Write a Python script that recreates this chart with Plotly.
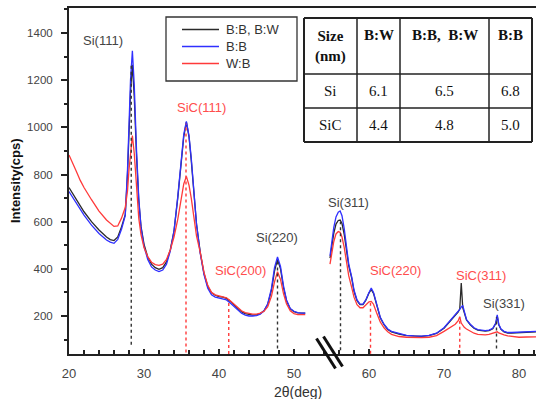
import plotly.graph_objects as go

# ---------------- data ----------------
x_seg1 = [20, 20.5, 21, 21.5, 22, 23, 24, 25, 25.5, 26, 26.5, 27, 27.5, 27.8, 28.0, 28.2, 28.45, 28.7,
          29.0, 29.3, 29.6, 30.0, 30.5, 31, 31.5, 32, 32.5, 33, 33.5, 34, 34.5, 35, 35.3, 35.65, 36.0,
          36.3, 36.6, 37, 37.5, 38, 38.5, 39, 39.5, 40, 40.5, 41, 41.5, 42, 42.5, 43, 43.5, 44, 44.5,
          45, 45.5, 46, 46.5, 47, 47.4, 47.8, 48.2, 48.6, 49, 49.5, 50, 50.5, 51, 51.5]
black_seg1 = [745, 720, 695, 668, 642, 600, 565, 535, 524, 520, 535, 578, 630, 800, 980, 1150, 1265, 1130,
              880, 690, 580, 505, 450, 420, 405, 398, 405, 430, 480, 560, 700, 870, 960, 1022, 960,
              860, 740, 590, 470, 380, 325, 298, 288, 282, 280, 275, 262, 248, 232, 218, 210, 206, 204,
              205, 210, 222, 250, 310, 390, 440, 400, 320, 265, 230, 218, 213, 212, 212]
blue_seg1 = [728, 703, 680, 652, 628, 585, 550, 522, 513, 508, 525, 568, 625, 820, 1010, 1200, 1325, 1180,
             905, 700, 575, 495, 440, 408, 395, 388, 395, 420, 475, 560, 705, 880, 970, 1025, 965,
             870, 745, 590, 465, 375, 318, 290, 280, 275, 272, 268, 255, 240, 225, 212, 204, 200, 200,
             202, 208, 222, 252, 318, 405, 450, 410, 328, 268, 232, 220, 214, 212, 212]
red_seg1 = [883, 850, 812, 775, 745, 693, 645, 607, 592, 580, 582, 615, 660, 730, 820, 900, 965, 890,
            740, 615, 545, 490, 452, 428, 418, 415, 420, 440, 480, 535, 610, 700, 760, 792, 755,
            700, 630, 540, 470, 385, 330, 300, 290, 285, 282, 277, 265, 250, 235, 222, 214, 210, 208,
            208, 212, 220, 240, 285, 345, 388, 355, 295, 252, 222, 210, 206, 205, 206]

x_seg2 = [54.8, 55.0, 55.3, 55.6, 55.9, 56.15, 56.4, 56.7, 57.0, 57.3, 57.7, 58.0, 58.4, 58.8, 59.2, 59.6,
          60.0, 60.3, 60.6, 61.0, 61.5, 62, 62.5, 63, 64, 65, 66, 67, 68, 69, 70, 70.5, 71, 71.5, 71.9,
          72.1, 72.3, 72.5, 72.7, 73, 73.5, 74, 74.5, 75, 75.5, 76, 76.5, 76.9, 77.1, 77.3, 77.6, 78,
          78.5, 79, 80, 81, 82, 82.5]
black_seg2 = [445, 495, 550, 590, 605, 607, 592, 545, 480, 412, 360, 305, 265, 248, 248, 268, 298, 312,
              296, 248, 193, 163, 143, 133, 123, 117, 115, 114, 117, 126, 148, 166, 183, 203, 218,
              230, 340, 235, 215, 183, 163, 148, 140, 138, 136, 138, 146, 168, 200, 163, 143, 133,
              128, 128, 130, 131, 133, 133]
blue_seg2 = [455, 510, 575, 620, 640, 645, 625, 570, 495, 420, 365, 310, 268, 250, 250, 270, 300, 318,
             300, 250, 195, 165, 145, 135, 125, 118, 116, 115, 118, 127, 150, 168, 185, 205, 220,
             228, 238, 245, 220, 185, 165, 150, 142, 140, 138, 140, 148, 170, 205, 165, 145, 135,
             130, 130, 132, 133, 135, 135]
red_seg2 = [420, 465, 515, 548, 558, 555, 535, 490, 430, 370, 320, 280, 248, 235, 235, 248, 260, 262,
            250, 215, 175, 150, 133, 122, 113, 110, 108, 108, 110, 117, 135, 145, 155, 165, 180,
            197, 170, 160, 152, 145, 135, 127, 122, 120, 120, 122, 127, 130, 133, 128, 124, 120,
            116, 113, 110, 111, 112, 112]

series_names = ["B:B, B:W", "B:B", "W:B"]

# peak reference (dashed) lines
peak_labels = ["Si(111)", "SiC(111)", "SiC(200)", "Si(220)", "Si(311)", "SiC(220)", "SiC(311)", "Si(331)"]
peak_pos = [28.3, 35.6, 41.3, 47.8, 56.2, 60.2, 72.1, 77.0]
peak_bottom = [78, 45, 39, 62, 55, 40, 40, 62]
peak_top = [1262, 1015, 272, 440, 600, 260, 195, 195]
peak_is_sic = [False, True, True, False, False, True, True, False]
label_x = [24.5, 37.7, 42.8, 47.7, 57.3, 63.5, 74.9, 78.0]
label_y = [1370, 1086, 391, 535, 683, 395, 370, 255]

# crystallite size table
table_header = ["Size<br>(nm)", "B:W", "B:B,  B:W", "B:B"]
table_rows = [["Si", "6.1", "6.5", "6.8"],
              ["SiC", "4.4", "4.8", "5.0"]]

x_ticks = [20, 30, 40, 50, 60, 70, 80]
y_ticks = [200, 400, 600, 800, 1000, 1200, 1400]

# ---------------- layout geometry ----------------
W, H = 536, 399
L, R, T, B = 69, 0, 8, 45
PW, PH = W - L - R, H - T - B

def fx(px):
    return (px - L) / PW

def fy(py):
    return 1 - (py - T) / PH

BLACK = "#2a2a2a"
BLUE = "#3030ff"
RED = "#ff3a3a"
LABEL_RED = "#ff4d4d"
GRAY = "#444444"
SANS = "Liberation Sans, Arial, sans-serif"
SERIF = "Liberation Serif, Times New Roman, serif"
COLORS = [BLACK, BLUE, RED]

fig = go.Figure()

def joined(a, b):
    return list(a) + [None] + list(b)

xs = joined(x_seg1, x_seg2)
for name, y1, y2, col in zip(series_names,
                             [black_seg1, blue_seg1, red_seg1],
                             [black_seg2, blue_seg2, red_seg2],
                             COLORS):
    fig.add_trace(go.Scatter(x=xs, y=joined(y1, y2), mode="lines", name=name, showlegend=False,
                             line=dict(color=col, width=1.3), connectgaps=False))

# dashed peak lines
for sic, col in [(False, "#333333"), (True, RED)]:
    lx, ly = [], []
    for p, b0, t0, s in zip(peak_pos, peak_bottom, peak_top, peak_is_sic):
        if s == sic:
            lx += [p, p, None]
            ly += [b0, t0, None]
    fig.add_trace(go.Scatter(x=lx, y=ly, mode="lines", showlegend=False, hoverinfo="skip",
                             line=dict(color=col, width=1.4, dash="3px,3px")))

annotations = []
shapes = []
for lab, x, y, s in zip(peak_labels, label_x, label_y, peak_is_sic):
    annotations.append(dict(x=x, y=y, xref="x", yref="y", text=lab, showarrow=False,
                            font=dict(family=SANS, size=13, color=LABEL_RED if s else GRAY)))

# axis titles
annotations.append(dict(x=0, y=0.5, xref="paper", yref="paper", xshift=-54, xanchor="center",
                        yanchor="middle", text="<b>Intensity(cps)</b>",
                        textangle=-90, showarrow=False, font=dict(family=SANS, size=13, color="#111")))
annotations.append(dict(x=fx(298), y=fy(392), xref="paper", yref="paper", text="2θ(deg)",
                        showarrow=False, xanchor="center", yanchor="middle",
                        font=dict(family=SANS, size=14, color="#333")))

# legend box (drawn manually to match the original sample length/spacing)
leg_box = (166, 17, 297, 81)
leg_rows = [29.5, 46.5, 63.5]
shapes.append(dict(type="rect", xref="paper", yref="paper", x0=fx(leg_box[0]), x1=fx(leg_box[2]),
                   y0=fy(leg_box[1]), y1=fy(leg_box[3]), line=dict(color="#333", width=1.3),
                   fillcolor="white", layer="above"))
for name, col, ry in zip(series_names, COLORS, leg_rows):
    shapes.append(dict(type="line", xref="paper", yref="paper", x0=fx(182), x1=fx(219),
                       y0=fy(ry), y1=fy(ry), line=dict(color=col, width=1.5), layer="above"))
    annotations.append(dict(x=fx(224), y=fy(ry), xref="paper", yref="paper", text=name,
                            showarrow=False, xanchor="left", yanchor="middle",
                            font=dict(family=SANS, size=13, color="#333")))

# table
col_px = [304, 357, 400, 489, 532]
row_py = [18, 74, 108, 142]
for i, px in enumerate(col_px):
    shapes.append(dict(type="line", xref="paper", yref="paper", x0=fx(px), x1=fx(px),
                       y0=fy(row_py[0]), y1=fy(row_py[-1]),
                       line=dict(color="#222", width=2 if i in (0, len(col_px) - 1) else 1.5)))
for j, py in enumerate(row_py):
    shapes.append(dict(type="line", xref="paper", yref="paper", x0=fx(col_px[0]), x1=fx(col_px[-1]),
                       y0=fy(py), y1=fy(py),
                       line=dict(color="#222", width=2 if j in (0, len(row_py) - 1) else 1.5)))
for c, txt in enumerate(table_header):
    cx = (col_px[c] + col_px[c + 1]) / 2
    if c == 0:
        cy = (row_py[0] + row_py[1]) / 2
    else:
        cy = row_py[0] + 17
    annotations.append(dict(x=fx(cx), y=fy(cy), xref="paper", yref="paper",
                            text="<b>%s</b>" % txt.replace("<br>", "</b><br><b>"),
                            showarrow=False, xanchor="center", yanchor="middle",
                            font=dict(family=SERIF, size=15, color="#111")))
for r, row in enumerate(table_rows):
    cy = (row_py[r + 1] + row_py[r + 2]) / 2
    for c, txt in enumerate(row):
        cx = (col_px[c] + col_px[c + 1]) / 2
        annotations.append(dict(x=fx(cx), y=fy(cy), xref="paper", yref="paper", text=txt,
                                showarrow=False, xanchor="center", yanchor="middle",
                                font=dict(family=SERIF, size=15, color="#111")))

# axis break marks
for (ax0, ay0, ax1, ay1) in [(316.5, 338.5, 335.5, 368.5), (323.5, 336.5, 342.5, 366.5)]:
    shapes.append(dict(type="line", xref="paper", yref="paper", x0=fx(ax0), y0=fy(ay0),
                       x1=fx(ax1), y1=fy(ay1), line=dict(color="#111", width=3)))

y_lo = 1400 - (H - B - 33) * 1200 / 283
y_hi = 1400 + (33 - T) * 1200 / 283

fig.update_layout(
    width=W, height=H,
    margin=dict(l=L, r=R, t=T, b=B, pad=0),
    paper_bgcolor="white", plot_bgcolor="white",
    showlegend=False,
    annotations=annotations,
    shapes=shapes,
    xaxis=dict(range=[20, 20 + PW / 7.5], tickmode="array", tickvals=x_ticks,
               ticktext=[str(v) for v in x_ticks],
               showgrid=False, zeroline=False, showline=True, linecolor="#222", linewidth=2,
               mirror=True, ticks="inside", ticklen=5, tickwidth=1.5, tickcolor="#222",
               minor=dict(dtick=2, tick0=20, ticks="inside", ticklen=4, tickwidth=1.5, tickcolor="#222"),
               tickfont=dict(family=SANS, size=13, color=GRAY), ticklabelstandoff=6),
    yaxis=dict(range=[y_lo, y_hi], tickmode="array", tickvals=y_ticks,
               ticktext=[str(v) for v in y_ticks],
               showgrid=False, zeroline=False, showline=True, linecolor="#222", linewidth=2,
               ticks="outside", ticklen=6, tickwidth=1.5, tickcolor="#222",
               minor=dict(dtick=100, tick0=0, ticks="outside", ticklen=3, tickwidth=1.5, tickcolor="#222"),
               tickfont=dict(family=SANS, size=11.5, color=GRAY), ticklabelstandoff=6),
)

fig.write_html("out.html")
